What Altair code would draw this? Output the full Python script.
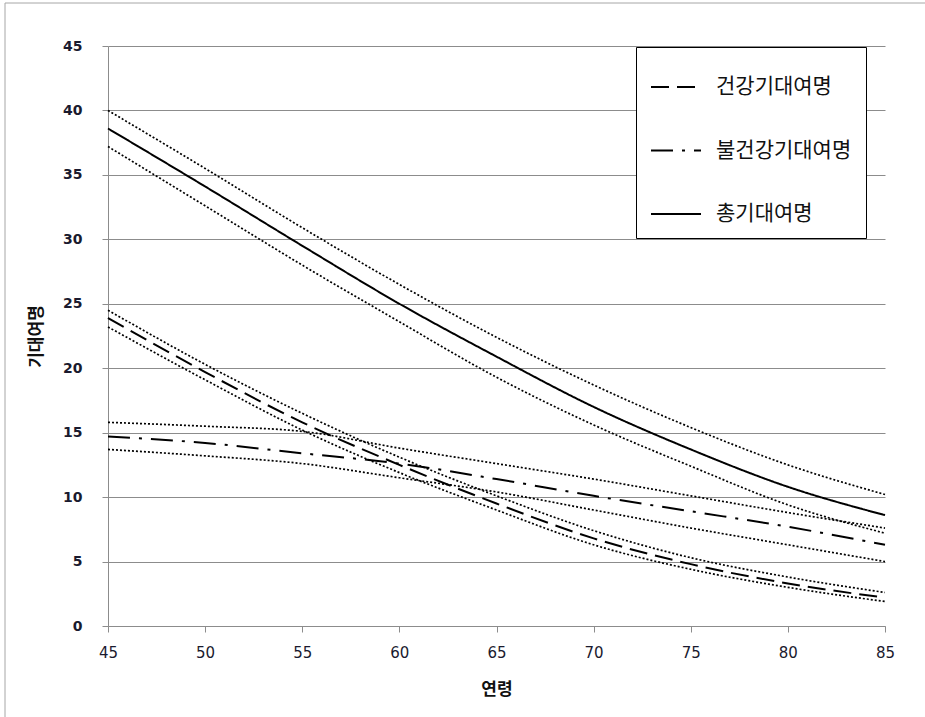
import altair as alt
import pandas as pd

# ---- data ----
ages = [45, 50, 55, 60, 65, 70, 75, 80, 85]

healthy    = [23.9, 19.7, 15.8, 12.5, 9.5, 6.8, 4.8, 3.3, 2.2]
healthy_hi = [24.5, 20.3, 16.5, 13.1, 10.1, 7.4, 5.3, 3.8, 2.6]
healthy_lo = [23.2, 19.1, 15.2, 11.9, 9.0, 6.3, 4.4, 3.0, 1.9]

unhealthy    = [14.7, 14.2, 13.4, 12.6, 11.4, 10.1, 8.9, 7.7, 6.3]
unhealthy_hi = [15.8, 15.5, 15.1, 13.8, 12.6, 11.4, 10.1, 8.8, 7.6]
unhealthy_lo = [13.7, 13.2, 12.6, 11.5, 10.4, 9.0, 7.6, 6.3, 5.0]

total    = [38.6, 34.1, 29.5, 25.0, 20.9, 17.0, 13.7, 10.8, 8.6]
total_hi = [40.0, 35.5, 30.9, 26.5, 22.4, 18.7, 15.4, 12.5, 10.2]
total_lo = [37.2, 32.6, 28.0, 23.6, 19.3, 15.6, 12.4, 9.4, 7.2]

series_names = ["건강기대여명", "불건강기대여명", "총기대여명"]
x_ticks = [45, 50, 55, 60, 65, 70, 75, 80, 85]
y_ticks = [0, 5, 10, 15, 20, 25, 30, 35, 40, 45]

# ---- tables ----
mean_rows = []
for name, vals in zip(series_names, [healthy, unhealthy, total]):
    for a, v in zip(ages, vals):
        mean_rows.append({"연령": a, "기대여명": v, "구분": name})
means = pd.DataFrame(mean_rows)

ci_rows = []
for band, vals in [("h_hi", healthy_hi), ("h_lo", healthy_lo),
                   ("u_hi", unhealthy_hi), ("u_lo", unhealthy_lo),
                   ("t_hi", total_hi), ("t_lo", total_lo)]:
    for a, v in zip(ages, vals):
        ci_rows.append({"연령": a, "기대여명": v, "band": band})
ci = pd.DataFrame(ci_rows)

x_enc = alt.X(
    "연령:Q",
    scale=alt.Scale(domain=[45, 85], nice=False, zero=False),
    axis=alt.Axis(
        values=x_ticks, grid=False, title="연령",
        labelFont="DejaVu Sans", labelFontSize=15, labelColor="#1a1a2e",
        labelPadding=13, tickSize=6, tickColor="#8c8c8c",
        domainColor="#8c8c8c", labelFlush=False,
        titleFont="Noto Sans CJK KR", titleFontSize=17, titleFontWeight="bold",
        titleColor="#111111", titlePadding=21,
    ),
)
y_enc = alt.Y(
    "기대여명:Q",
    scale=alt.Scale(domain=[0, 45], nice=False),
    axis=alt.Axis(
        values=y_ticks, grid=True, gridColor="#8c8c8c", gridWidth=1,
        title="기대여명",
        labelFont="DejaVu Sans", labelFontSize=14, labelFontWeight="bold",
        labelColor="#1a1a2e", labelPadding=20, tickSize=6,
        tickColor="#8c8c8c", domainColor="#8c8c8c", labelFlush=False,
        titleFont="Noto Sans CJK KR", titleFontSize=17, titleFontWeight="bold",
        titleColor="#111111", titlePadding=17,
    ),
)

# chart-area border (decoration, as in the spreadsheet screenshot)
frame = alt.Chart(pd.DataFrame({"k": [0]})).mark_rect(
    fillOpacity=0, stroke="#a6a6a6", strokeWidth=1
).encode(
    x=alt.value(-103), x2=alt.value(822),
    y=alt.value(-43), y2=alt.value(674),
)

ci_lines = alt.Chart(ci).mark_line(
    color="black", strokeWidth=1.7, strokeDash=[2, 2], interpolate="monotone"
).encode(x=x_enc, y=y_enc, detail="band:N")

mean_lines = alt.Chart(means).mark_line(
    color="black", strokeWidth=2, interpolate="monotone"
).encode(
    x=x_enc,
    y=y_enc,
    strokeDash=alt.StrokeDash(
        "구분:N",
        scale=alt.Scale(domain=series_names,
                        range=[[18, 8], [22, 9, 3, 9], [1, 0]]),
        legend=alt.Legend(
            title=None, orient="none", legendX=528, legendY=1,
            direction="vertical", symbolType="stroke", symbolSize=2500,
            symbolStrokeWidth=2, symbolStrokeColor="black",
            labelFont="Noto Sans CJK KR", labelFontSize=21,
            labelColor="#111111", labelOffset=14, padding=14,
            rowPadding=27.5, strokeColor="black", fillColor="white",
        ),
    ),
)

chart = alt.layer(frame, ci_lines, mean_lines).properties(
    width=777, height=580,
    autosize=alt.AutoSizeParams(type="none"),
    padding={"left": 108, "top": 46, "right": 40, "bottom": 91},
    background="white",
).configure_view(stroke=None)

chart.save("out.html", embed_options={"renderer": "svg", "actions": False})
